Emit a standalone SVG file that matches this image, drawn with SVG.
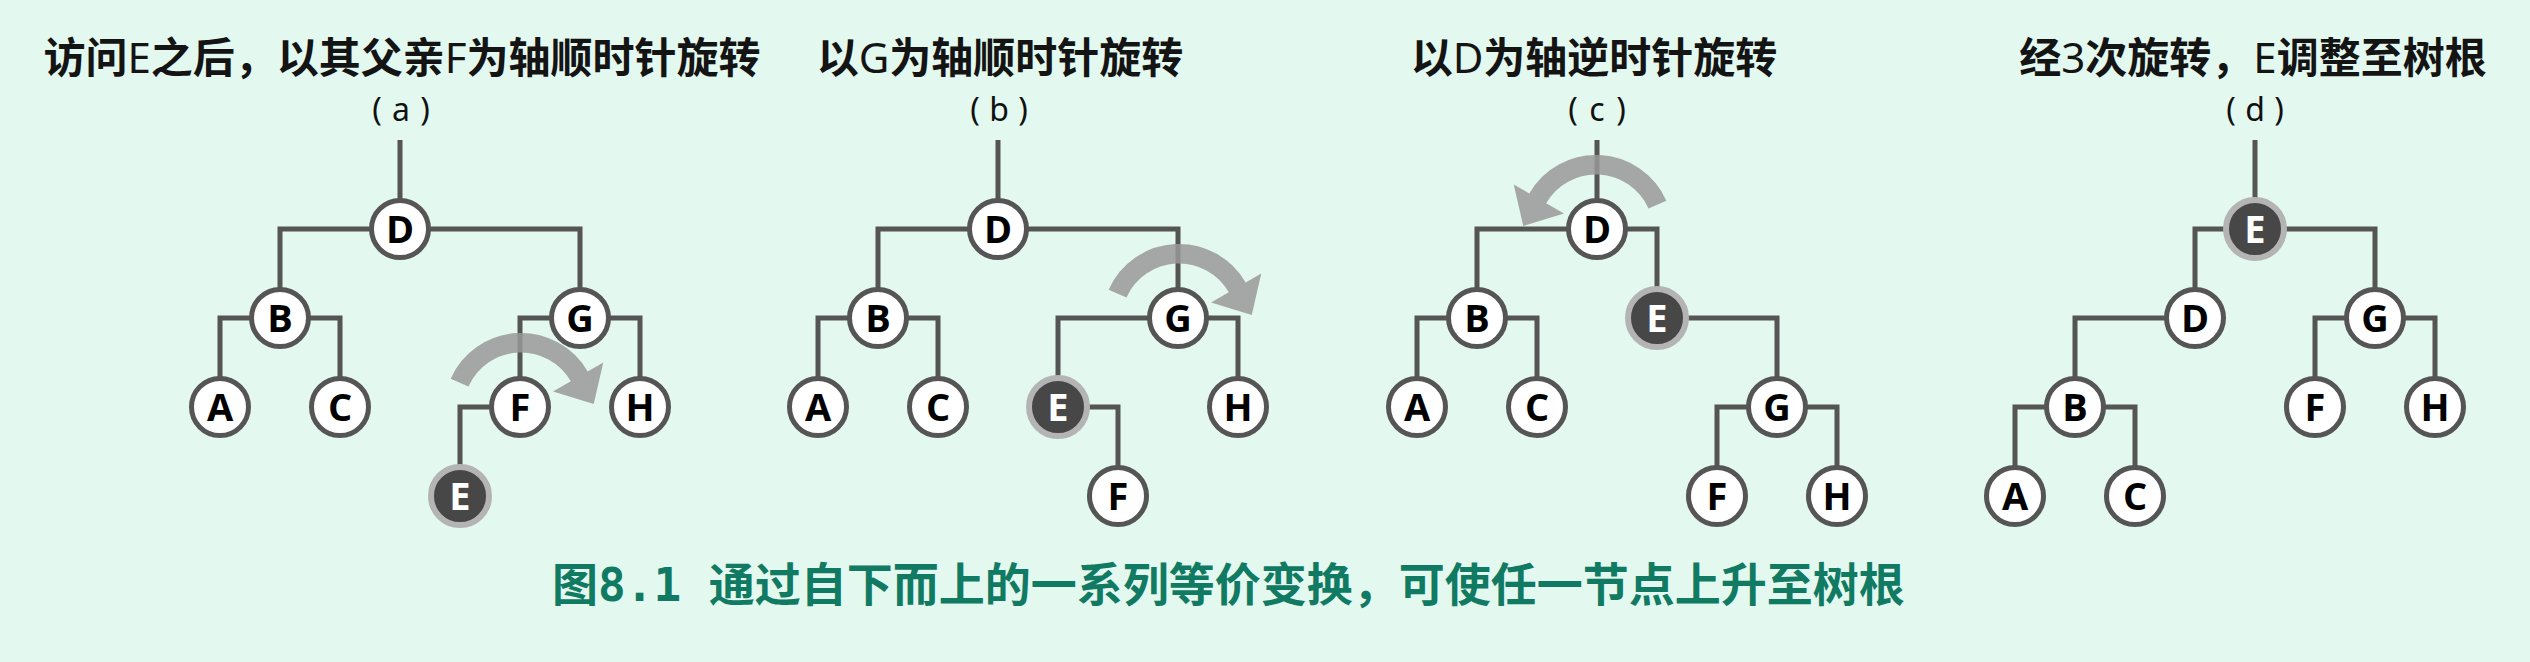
<svg xmlns="http://www.w3.org/2000/svg" width="2530" height="662" viewBox="0 0 2530 662">
<defs>
<style>
.title{font-family:"Noto Sans CJK SC","Noto Sans",sans-serif;font-weight:700;font-size:42px;fill:#141414;text-anchor:middle}
.title .lat{font-family:"Noto Sans",sans-serif;font-weight:400}
.lbl{font-family:"Noto Sans",sans-serif;font-size:32px;fill:#111;text-anchor:middle}
.edge{fill:none;stroke:#555;stroke-width:5;stroke-linejoin:miter;stroke-linecap:butt}
.node circle{fill:#fff;stroke:#555;stroke-width:5}
.node text{font-family:"Open Sans","Noto Sans",sans-serif;font-weight:700;font-size:38px;fill:#000;text-anchor:middle}
.node.hl circle{fill:#474747;stroke:#b4b4b4;stroke-width:6}
.node.hl text{fill:#fff}
.rot{fill:#999;fill-opacity:0.85}
.cap{font-family:"Noto Sans CJK SC","Noto Sans",sans-serif;font-weight:700;font-size:46px;fill:#117a63}
.cap .mono{font-family:"DejaVu Sans Mono",monospace;font-weight:700}
</style>
<path id="cw" d="M-70.34,-31.32 A77,77 0 0 1 66.68,-38.5 L82.27,-47.5 L72.75,-5.98 L32.04,-18.5 L49.8,-28.75 A57.5,57.5 0 0 0 -52.53,-23.39 Z"/>
</defs>
<rect x="0" y="0" width="2530" height="662" fill="#e3f8ef"/>

<g id="titles">
<text class="title" x="402" y="73">访问<tspan class="lat">E</tspan>之后，以其父亲<tspan class="lat">F</tspan>为轴顺时针旋转</text>
<text class="title" x="1000" y="73">以<tspan class="lat">G</tspan>为轴顺时针旋转</text>
<text class="title" x="1594" y="73">以<tspan class="lat">D</tspan>为轴逆时针旋转</text>
<text class="title" x="2253" y="73">经<tspan class="lat">3</tspan>次旋转，<tspan class="lat">E</tspan>调整至树根</text>
<text class="lbl" x="377 401 425" y="121">(a)</text>
<text class="lbl" x="975 999 1023" y="121">(b)</text>
<text class="lbl" x="1573 1597 1621" y="121">(c)</text>
<text class="lbl" x="2231 2255 2279" y="121">(d)</text>
</g>

<g id="connectors">
<path class="edge" d="M400,140 V229 M400,229 H280 V318 M400,229 H580 V318 M280,318 H220 V407 M280,318 H340 V407 M580,318 H520 V407 M580,318 H640 V407 M520,407 H460 V496"/>
<path class="edge" d="M998,140 V229 M998,229 H878 V318 M998,229 H1178 V318 M878,318 H818 V407 M878,318 H938 V407 M1178,318 H1058 V407 M1178,318 H1238 V407 M1058,407 H1118 V496"/>
<path class="edge" d="M1597,140 V229 M1597,229 H1477 V318 M1597,229 H1657 V318 M1477,318 H1417 V407 M1477,318 H1537 V407 M1657,318 H1777 V407 M1777,407 H1717 V496 M1777,407 H1837 V496"/>
<path class="edge" d="M2255,140 V229 M2255,229 H2195 V318 M2255,229 H2375 V318 M2195,318 H2075 V407 M2375,318 H2315 V407 M2375,318 H2435 V407 M2075,407 H2015 V496 M2075,407 H2135 V496"/>
</g>

<g id="rotations">
<use href="#cw" class="rot" transform="translate(521,410)"/>
<use href="#cw" class="rot" transform="translate(1179,321)"/>
<use href="#cw" class="rot" transform="translate(1596,232) scale(-1,1)"/>
</g>

<g id="nodes-a">
<g id="a-D" class="node"><circle cx="400" cy="229" r="28.5"/><text x="400" y="243">D</text></g>
<g id="a-B" class="node"><circle cx="280" cy="318" r="28.5"/><text x="280" y="332">B</text></g>
<g id="a-G" class="node"><circle cx="580" cy="318" r="28.5"/><text x="580" y="332">G</text></g>
<g id="a-A" class="node"><circle cx="220" cy="407" r="28.5"/><text x="220" y="421">A</text></g>
<g id="a-C" class="node"><circle cx="340" cy="407" r="28.5"/><text x="340" y="421">C</text></g>
<g id="a-F" class="node"><circle cx="520" cy="407" r="28.5"/><text x="520" y="421">F</text></g>
<g id="a-H" class="node"><circle cx="640" cy="407" r="28.5"/><text x="640" y="421">H</text></g>
<g id="a-E" class="node hl"><circle cx="460" cy="496" r="29"/><text x="460" y="510">E</text></g>
</g>

<g id="nodes-b">
<g id="b-D" class="node"><circle cx="998" cy="229" r="28.5"/><text x="998" y="243">D</text></g>
<g id="b-B" class="node"><circle cx="878" cy="318" r="28.5"/><text x="878" y="332">B</text></g>
<g id="b-G" class="node"><circle cx="1178" cy="318" r="28.5"/><text x="1178" y="332">G</text></g>
<g id="b-A" class="node"><circle cx="818" cy="407" r="28.5"/><text x="818" y="421">A</text></g>
<g id="b-C" class="node"><circle cx="938" cy="407" r="28.5"/><text x="938" y="421">C</text></g>
<g id="b-E" class="node hl"><circle cx="1058" cy="407" r="29"/><text x="1058" y="421">E</text></g>
<g id="b-H" class="node"><circle cx="1238" cy="407" r="28.5"/><text x="1238" y="421">H</text></g>
<g id="b-F" class="node"><circle cx="1118" cy="496" r="28.5"/><text x="1118" y="510">F</text></g>
</g>

<g id="nodes-c">
<g id="c-D" class="node"><circle cx="1597" cy="229" r="28.5"/><text x="1597" y="243">D</text></g>
<g id="c-B" class="node"><circle cx="1477" cy="318" r="28.5"/><text x="1477" y="332">B</text></g>
<g id="c-E" class="node hl"><circle cx="1657" cy="318" r="29"/><text x="1657" y="332">E</text></g>
<g id="c-A" class="node"><circle cx="1417" cy="407" r="28.5"/><text x="1417" y="421">A</text></g>
<g id="c-C" class="node"><circle cx="1537" cy="407" r="28.5"/><text x="1537" y="421">C</text></g>
<g id="c-G" class="node"><circle cx="1777" cy="407" r="28.5"/><text x="1777" y="421">G</text></g>
<g id="c-F" class="node"><circle cx="1717" cy="496" r="28.5"/><text x="1717" y="510">F</text></g>
<g id="c-H" class="node"><circle cx="1837" cy="496" r="28.5"/><text x="1837" y="510">H</text></g>
</g>

<g id="nodes-d">
<g id="d-E" class="node hl"><circle cx="2255" cy="229" r="29"/><text x="2255" y="243">E</text></g>
<g id="d-D" class="node"><circle cx="2195" cy="318" r="28.5"/><text x="2195" y="332">D</text></g>
<g id="d-G" class="node"><circle cx="2375" cy="318" r="28.5"/><text x="2375" y="332">G</text></g>
<g id="d-B" class="node"><circle cx="2075" cy="407" r="28.5"/><text x="2075" y="421">B</text></g>
<g id="d-F" class="node"><circle cx="2315" cy="407" r="28.5"/><text x="2315" y="421">F</text></g>
<g id="d-H" class="node"><circle cx="2435" cy="407" r="28.5"/><text x="2435" y="421">H</text></g>
<g id="d-A" class="node"><circle cx="2015" cy="496" r="28.5"/><text x="2015" y="510">A</text></g>
<g id="d-C" class="node"><circle cx="2135" cy="496" r="28.5"/><text x="2135" y="510">C</text></g>
</g>

<g id="caption">
<text class="cap" x="552" y="601">图<tspan class="mono">8.1 </tspan>通过自下而上的一系列等价变换，可使任一节点上升至树根</text>
</g>
</svg>
